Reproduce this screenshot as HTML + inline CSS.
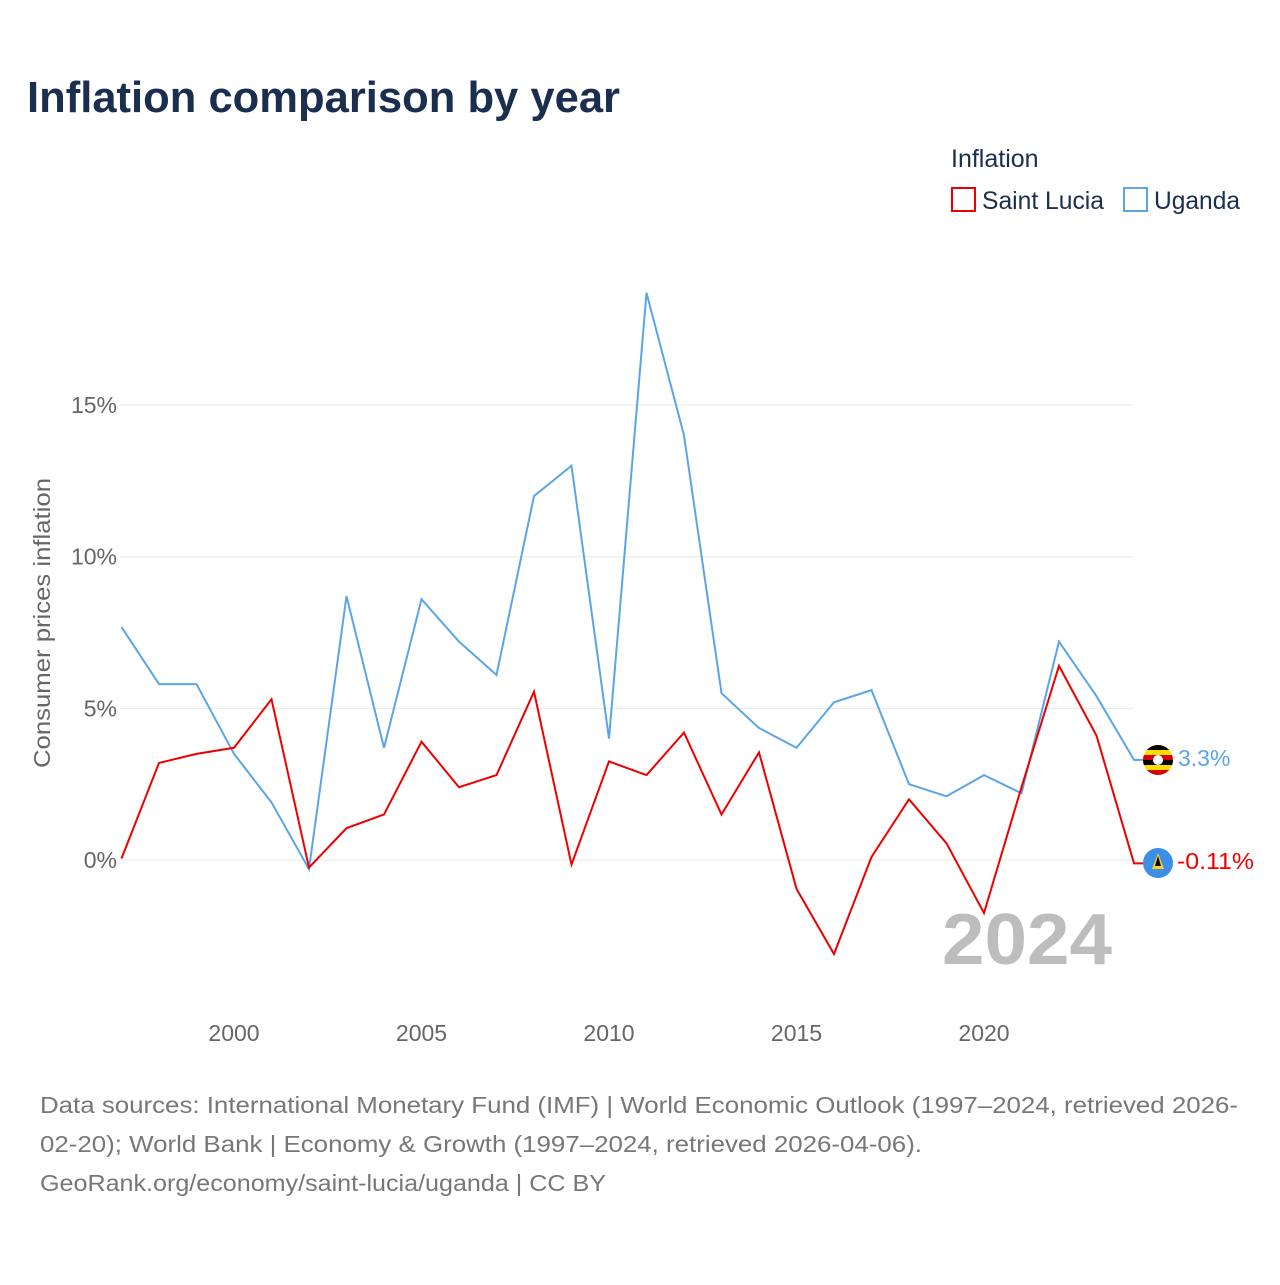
<!DOCTYPE html>
<html><head><meta charset="utf-8"><style>
html,body{margin:0;padding:0;background:#fff;}
svg text{font-family:"Liberation Sans",sans-serif;}
</style></head><body>
<svg width="1280" height="1280" viewBox="0 0 1280 1280" xmlns="http://www.w3.org/2000/svg">
<rect width="1280" height="1280" fill="#fff"/>
<text x="27" y="112" font-size="44" font-weight="bold" fill="#1a2e4f" textLength="593" lengthAdjust="spacingAndGlyphs">Inflation comparison by year</text>
<text x="951" y="167" font-size="25" fill="#1a2e4f">Inflation</text>
<g><rect x="952" y="188" width="23" height="23" fill="none" stroke="#e00" stroke-width="2"/><text x="982" y="209" font-size="25" fill="#1a2e4f" textLength="122" lengthAdjust="spacingAndGlyphs">Saint Lucia</text></g>
<g><rect x="1124" y="188" width="23" height="23" fill="none" stroke="#5aa5e8" stroke-width="2"/><text x="1154" y="209" font-size="25" fill="#1a2e4f" textLength="86" lengthAdjust="spacingAndGlyphs">Uganda</text></g>
<g id="grid"></g>
<g id="axes"></g>
<text transform="translate(50,623) rotate(-90)" text-anchor="middle" font-size="23" fill="#666" textLength="290" lengthAdjust="spacingAndGlyphs">Consumer prices inflation</text>
<text x="1112" y="964" text-anchor="end" font-size="72" font-weight="bold" fill="#bdbdbd" textLength="170" lengthAdjust="spacingAndGlyphs">2024</text>
<g id="series"></g>
<g>
<clipPath id="cu"><circle cx="1158" cy="760" r="15"/></clipPath>
<g clip-path="url(#cu)"><rect x="1143" y="745" width="30" height="5" fill="#000"/><rect x="1143" y="750" width="30" height="5" fill="#fcdc04"/><rect x="1143" y="755" width="30" height="5" fill="#d90000"/><rect x="1143" y="760" width="30" height="5" fill="#000"/><rect x="1143" y="765" width="30" height="5" fill="#fcdc04"/><rect x="1143" y="770" width="30" height="5" fill="#d90000"/></g>
<circle cx="1158" cy="760" r="5" fill="#fff"/>
<text x="1178" y="766" font-size="23" fill="#5aa5e8">3.3%</text></g>
<g>
<circle cx="1158" cy="863" r="15" fill="#3b8fe8"/><polygon points="1158,853 1152,869 1164,869" fill="#fcd116"/><polygon points="1158,856 1155,866 1161,866" fill="#000"/>
<text x="1177" y="869" font-size="23" fill="#e00" textLength="77" lengthAdjust="spacingAndGlyphs">-0.11%</text></g>
<text font-size="23" fill="#777"><tspan x="40" y="1113" textLength="1198" lengthAdjust="spacingAndGlyphs">Data sources: International Monetary Fund (IMF) | World Economic Outlook (1997–2024, retrieved 2026-</tspan><tspan x="40" y="1152" textLength="882" lengthAdjust="spacingAndGlyphs">02-20); World Bank | Economy &amp; Growth (1997–2024, retrieved 2026-04-06).</tspan><tspan x="40" y="1191" textLength="566" lengthAdjust="spacingAndGlyphs">GeoRank.org/economy/saint-lucia/uganda | CC BY</tspan></text>
</svg>
<script>
const years=[1997,1998,1999,2000,2001,2002,2003,2004,2005,2006,2007,2008,2009,2010,2011,2012,2013,2014,2015,2016,2017,2018,2019,2020,2021,2022,2023,2024];
const uganda=[7.68,5.8,5.8,3.5,1.9,-0.3,8.7,3.7,8.6,7.2,6.1,12.0,13.0,4.0,18.7,14.0,5.5,4.35,3.7,5.2,5.6,2.5,2.1,2.8,2.2,7.2,5.4,3.3];
const saintLucia=[0.05,3.2,3.5,3.7,5.3,-0.25,1.05,1.5,3.9,2.4,2.8,5.55,-0.15,3.25,2.8,4.2,1.5,3.55,-0.95,-3.1,0.1,2.0,0.55,-1.75,2.4,6.4,4.1,-0.11];
const yTicks=[0,5,10,15];
const yTickLabels=["0%","5%","10%","15%"];
const xTicks=[2000,2005,2010,2015,2020];
const xTickLabels=["2000","2005","2010","2015","2020"];
const NS="http://www.w3.org/2000/svg";
const xS=y=>121.5+(y-1997)*37.5;
const yS=v=>860-v*30.33;
const grid=document.getElementById('grid'),axes=document.getElementById('axes'),ser=document.getElementById('series');
function mk(tag,attrs,parent){const e=document.createElementNS(NS,tag);for(const k in attrs)e.setAttribute(k,attrs[k]);parent.appendChild(e);return e;}
yTicks.forEach((t,i)=>{
 const l=mk('line',{x1:120,x2:1133,y1:yS(t),y2:yS(t),stroke:'#e8e8e8','stroke-width':1},grid);
 
 
 const tx=mk('text',{x:117,y:yS(t)+8,'text-anchor':'end','font-size':23,fill:'#666'},axes);
 tx.textContent=yTickLabels[i];
 
 
});
xTicks.forEach((t,i)=>{
 const tx=mk('text',{x:xS(t),y:1041,'text-anchor':'middle','font-size':23,fill:'#666'},axes);
 tx.textContent=xTickLabels[i];
 
 
});
function line(data,color,name){
 const pts=data.map((v,i)=>xS(years[i])+','+yS(v));
 pts.push((xS(years[years.length-1])+9)+','+yS(data[data.length-1]));
 const p=mk('polyline',{points:pts.join(' '),fill:'none',stroke:color,'stroke-width':2,'stroke-linejoin':'miter'},ser);
 
 
}
line(uganda,'#5aa5e8','uganda-line');
line(saintLucia,'#e00','saint-lucia-line');
</script>
</body></html>
